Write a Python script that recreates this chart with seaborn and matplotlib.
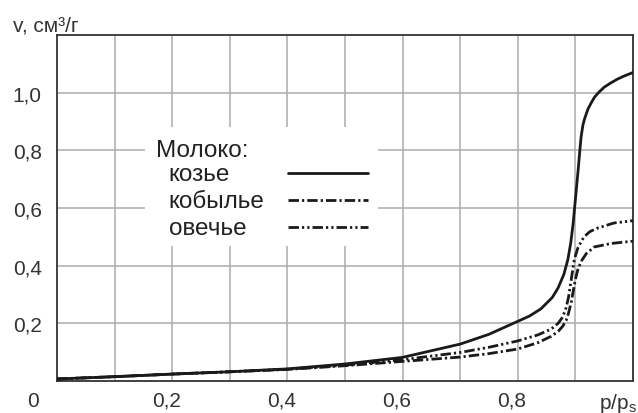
# Isotherms of water vapour sorption for milk (goat, mare, sheep)
import matplotlib
matplotlib.use("Agg")
import matplotlib.pyplot as plt
import matplotlib.transforms as mtransforms
from matplotlib.patches import Rectangle
from matplotlib.lines import Line2D
import seaborn as sns

# data
kozye_x = [0, 0.1, 0.2, 0.3, 0.4, 0.5, 0.6, 0.7, 0.75, 0.8, 0.82, 0.84, 0.86, 0.87, 0.88,
           0.887, 0.892, 0.896, 0.9, 0.905, 0.908, 0.91, 0.913, 0.916, 0.922, 0.927, 0.933,
           0.94, 0.95, 0.96, 0.973, 0.985, 1.0]
kozye_y = [0.007, 0.015, 0.024, 0.032, 0.042, 0.059, 0.082, 0.128, 0.162, 0.207, 0.225,
           0.25, 0.29, 0.323, 0.37, 0.422, 0.48, 0.545, 0.63, 0.737, 0.807, 0.848, 0.887,
           0.91, 0.944, 0.963, 0.984, 1.0, 1.019, 1.032, 1.047, 1.058, 1.07]

kobylye_x = [0, 0.1, 0.2, 0.3, 0.4, 0.5, 0.6, 0.7, 0.75, 0.8, 0.835, 0.858, 0.87, 0.878,
             0.884, 0.888, 0.893, 0.897, 0.9, 0.904, 0.91, 0.919, 0.933, 0.962, 1.0]
kobylye_y = [0.007, 0.015, 0.024, 0.032, 0.04, 0.053, 0.068, 0.083, 0.095, 0.111, 0.133,
             0.155, 0.172, 0.19, 0.21, 0.235, 0.275, 0.32, 0.352, 0.385, 0.415, 0.442,
             0.465, 0.477, 0.485]

ovechye_x = [0, 0.1, 0.2, 0.3, 0.4, 0.5, 0.6, 0.7, 0.75, 0.8, 0.835, 0.858, 0.87, 0.878,
             0.884, 0.888, 0.893, 0.898, 0.904, 0.91, 0.915, 0.925, 0.938, 0.967, 1.0]
ovechye_y = [0.007, 0.015, 0.024, 0.032, 0.041, 0.055, 0.074, 0.099, 0.117, 0.139, 0.16,
             0.18, 0.2, 0.222, 0.255, 0.29, 0.355, 0.42, 0.46, 0.483, 0.5, 0.518, 0.53,
             0.548, 0.556]

series_labels = ["козье", "кобылье", "овечье"]
legend_title = "Молоко:"
x_ticks = [0.2, 0.4, 0.6, 0.8, 1.0]
x_ticklabels = ["0,2", "0,4", "0,6", "0,8", "p/p$_\\mathregular{s}$"]
y_ticks = [0.2, 0.4, 0.6, 0.8, 1.0]
y_ticklabels = ["0,2", "0,4", "0,6", "0,8", "1,0"]

sns.set_style("white")
plt.rcParams["font.family"] = ["Liberation Sans", "DejaVu Sans"]
plt.rcParams["lines.scale_dashes"] = False

line_color = "#1a1a1a"
text_color = "#333333"
dash_dot = (0, (7.5, 2.2, 1.6, 2.2))
dash_dot_dot = (0, (7.5, 2.2, 1.6, 2.2, 1.6, 2.2))
styles = ["-", dash_dot, dash_dot_dot]

fig = plt.figure(figsize=(6.38, 4.14), dpi=100)
ax = fig.add_axes([57 / 638, 32 / 414, 576 / 638, 346 / 414])

# curves
for xs, ys, ls in zip([kozye_x, kobylye_x, ovechye_x], [kozye_y, kobylye_y, ovechye_y], styles):
    sns.lineplot(x=xs, y=ys, ax=ax, color=line_color, linewidth=2.0, linestyle=ls,
                 sort=False, estimator=None, zorder=3)

ax.set_xlim(0, 1.0)
ax.set_ylim(0, 1.2)
ax.set_xlabel("")
ax.set_ylabel("")

# grid: every 0.1 on x, every 0.2 on y
ax.set_xticks([i / 10 for i in range(1, 10)], minor=True)
ax.set_xticks(x_ticks)
ax.set_xticklabels(x_ticklabels)
ax.set_yticks(y_ticks)
ax.set_yticklabels(y_ticklabels)
ax.grid(True, which="both", color="#acacac", linewidth=1.1, zorder=0)
ax.set_axisbelow(True)
ax.tick_params(which="both", length=0, labelsize=15, colors=text_color)
ax.tick_params(axis="x", pad=7)
ax.tick_params(axis="y", pad=11)

# x labels sit a little left of their gridlines; the last one is pushed to the edge
shift = mtransforms.ScaledTranslation(-6 / 100, 0, fig.dpi_scale_trans)
edge = mtransforms.ScaledTranslation(4 / 100, 0, fig.dpi_scale_trans)
labels = ax.get_xticklabels()
for lab in labels[:-1]:
    lab.set_transform(lab.get_transform() + shift)
labels[-1].set_horizontalalignment("right")
labels[-1].set_transform(labels[-1].get_transform() + edge)

for sp in ax.spines.values():
    sp.set_color("#333333")
    sp.set_linewidth(1.3)
    sp.set_visible(True)

# corner zero and axis title
ax.annotate("0", xy=(0, 0), xycoords="axes fraction", xytext=(-24, -20),
            textcoords="offset pixels", fontsize=15, color=text_color, ha="center", va="center")
fig.text(13 / 638, 1 - 32 / 414, "v, см³/г", fontsize=15, color=text_color,
         ha="left", va="baseline")

# legend block drawn by hand: labels left, samples right
ax.add_patch(Rectangle((0.153, 0.390), 0.404, 0.344, transform=ax.transAxes,
                       facecolor="white", edgecolor="none", zorder=2))
ax.text(0.172, 0.650, legend_title, transform=ax.transAxes, fontsize=17.5,
        color="#222222", va="baseline", zorder=4)
label_y = [0.5795, 0.503, 0.425]
sample_y = [0.601, 0.523, 0.446]
for lab, ty, sy, ls in zip(series_labels, label_y, sample_y, styles):
    ax.text(0.194, ty, lab, transform=ax.transAxes, fontsize=17.5, color="#222222",
            va="baseline", zorder=4)
    ax.add_line(Line2D([0.401, 0.540], [sy, sy], transform=ax.transAxes, color=line_color,
                       linewidth=2.0, linestyle=ls, zorder=4))

fig.savefig("out.png", dpi=100)
